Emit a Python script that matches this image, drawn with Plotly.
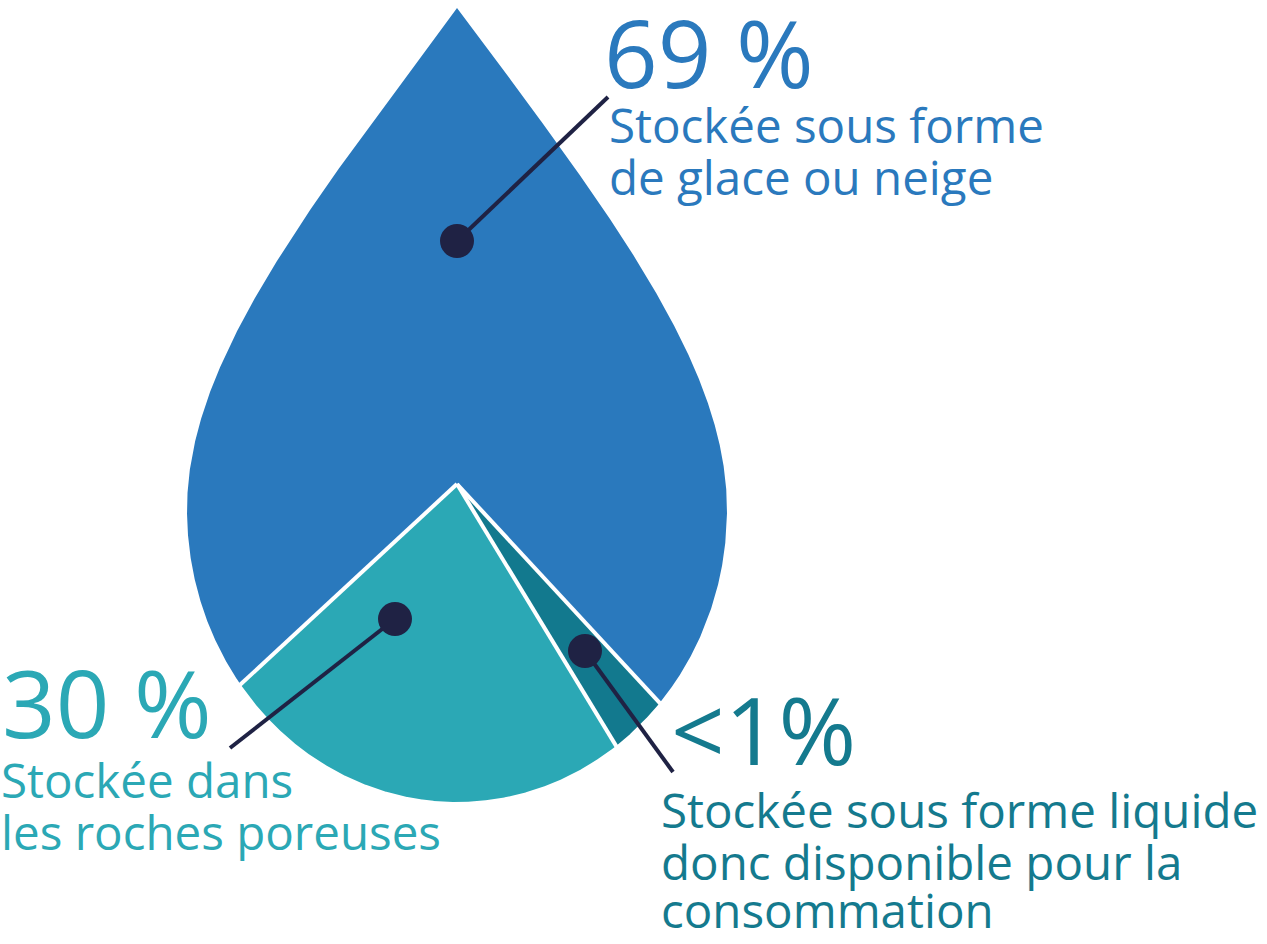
import numpy as np
import plotly.graph_objects as go

# ---------------- data ----------------
categories = [
    "Stockée sous forme de glace ou neige",
    "Stockée dans les roches poreuses",
    "Stockée sous forme liquide donc disponible pour la consommation",
]
values = [69, 30, 1]                      # percentages of the Earth's fresh water
value_labels = ["69 %", "30 %", "<1%"]
# share of the drop's full turn each slice occupies in the picture (%)
drawn_share = [75.0, 21.8, 3.2]
label_lines = [
    ["Stockée sous forme", "de glace ou neige"],
    ["Stockée dans", "les roches poreuses"],
    ["Stockée sous forme liquide", "donc disponible pour la", "consommation"],
]

# ---------------- styles / layout ----------------
W, H = 1267, 944
slice_colors = ["#2a79bd", "#2ba8b5", "#12798e"]
text_colors = ["#2a79bd", "#2ba8b5", "#147a8e"]
navy = "#1f2244"
FONT = "Open Sans"
BIG, SMALL = 94, 47.5

CX, CY = 457, 484            # pie centre (pixels)
START_ANGLE = 312.8          # degrees, counter-clockwise, maths convention
TIP = (457, 8)
WIDE_Y, HALF_W, BOTTOM_Y = 510, 270, 802
TIP_CTRL, SIDE_CTRL, TIP_SLOPE = 220, 140, 0.75

# label anchors: dot position, leader end, text x, baselines
dots = [(457, 241), (395, 619), (585, 651)]
leader_ends = [(608, 97), (230, 748), (673, 772)]
big_pos = [(603, 88), (1, 738), (670, 765)]
line_x = [608, 0, 660]
line_baselines = [[143, 195], [798, 850], [828, 880, 928]]

# ---------------- drop outline ----------------
def bezier(p0, p1, p2, p3, n):
    t = np.linspace(0, 1, n)[:, None]
    return ((1 - t) ** 3) * p0 + 3 * ((1 - t) ** 2) * t * p1 + 3 * (1 - t) * t ** 2 * p2 + t ** 3 * p3

p0 = np.array(TIP, float)
p1 = np.array([TIP[0] - TIP_SLOPE * TIP_CTRL, TIP[1] + TIP_CTRL])
p2 = np.array([TIP[0] - HALF_W, WIDE_Y - SIDE_CTRL])
p3 = np.array([TIP[0] - HALF_W, WIDE_Y])
left = bezier(p0, p1, p2, p3, 700)
right = left.copy()
right[:, 0] = 2 * TIP[0] - right[:, 0]
a_ = np.linspace(np.pi, 0, 900)
bottom = np.column_stack([TIP[0] + HALF_W * np.cos(a_), WIDE_Y + (BOTTOM_Y - WIDE_Y) * np.sin(a_)])
outline = np.vstack([left, bottom, right[::-1]])

phi = np.degrees(np.arctan2(CY - outline[:, 1], outline[:, 0] - CX)) % 360
rad = np.hypot(outline[:, 0] - CX, outline[:, 1] - CY)
order = np.argsort(phi)
phi_s, rad_s = phi[order], rad[order]


def radius(theta):
    return np.interp(np.asarray(theta) % 360, phi_s, rad_s, period=360)


def polar(theta, r):
    th = np.radians(theta)
    return CX + r * np.cos(th), CY - r * np.sin(th)


bounds = START_ANGLE + 360 * np.concatenate([[0], np.cumsum(drawn_share)]) / 100.0

fig = go.Figure()
for i, cat in enumerate(categories):
    a, b = bounds[i], bounds[i + 1]
    grid = np.linspace(a, b, 800)
    extra = []
    for k in range(-1, 3):
        pv = phi_s + 360 * k
        extra.append(pv[(pv > a) & (pv < b)])
    th = np.unique(np.concatenate([grid] + extra))
    xs, ys = polar(th, radius(th))
    fig.add_trace(go.Scatter(
        x=np.concatenate([[CX], xs, [CX]]), y=np.concatenate([[CY], ys, [CY]]),
        mode="lines", fill="toself", fillcolor=slice_colors[i],
        line=dict(width=0, color=slice_colors[i]), hoverinfo="text",
        text=f"{cat}: {value_labels[i]}", showlegend=False))

# white separators between slices
for ang in bounds[:-1]:
    ex, ey = polar(ang, radius(ang) + 2)
    fig.add_trace(go.Scatter(x=[CX, ex], y=[CY, ey], mode="lines",
                             line=dict(color="white", width=4), hoverinfo="skip", showlegend=False))

# leader lines and dots
for i in range(len(categories)):
    (dx, dy), (lx, ly) = dots[i], leader_ends[i]
    fig.add_trace(go.Scatter(x=[dx, lx], y=[dy, ly], mode="lines",
                             line=dict(color=navy, width=4), hoverinfo="skip", showlegend=False))
    fig.add_trace(go.Scatter(x=[dx], y=[dy], mode="markers",
                             marker=dict(color=navy, size=34, line=dict(width=0)),
                             hoverinfo="skip", showlegend=False))

# texts
for i in range(len(categories)):
    bx, bb = big_pos[i]
    fig.add_annotation(x=bx, y=bb - 0.388 * BIG, text=value_labels[i], showarrow=False,
                       xanchor="left", yanchor="middle", borderpad=0,
                       font=dict(family=FONT, size=BIG, color=text_colors[i]))
    for line, base in zip(label_lines[i], line_baselines[i]):
        fig.add_annotation(x=line_x[i], y=base - 0.388 * SMALL, text=line, showarrow=False,
                           xanchor="left", yanchor="middle", borderpad=0,
                           font=dict(family=FONT, size=SMALL, color=text_colors[i]))

fig.update_layout(
    width=W, height=H, margin=dict(l=0, r=0, t=0, b=0),
    paper_bgcolor="white", plot_bgcolor="white",
    xaxis=dict(range=[0, W], visible=False, fixedrange=True),
    yaxis=dict(range=[H, 0], visible=False, fixedrange=True),
)
fig.write_html("out.html", config={"displayModeBar": False},
               post_script="document.body.style.margin='0';document.body.style.padding='0';")
